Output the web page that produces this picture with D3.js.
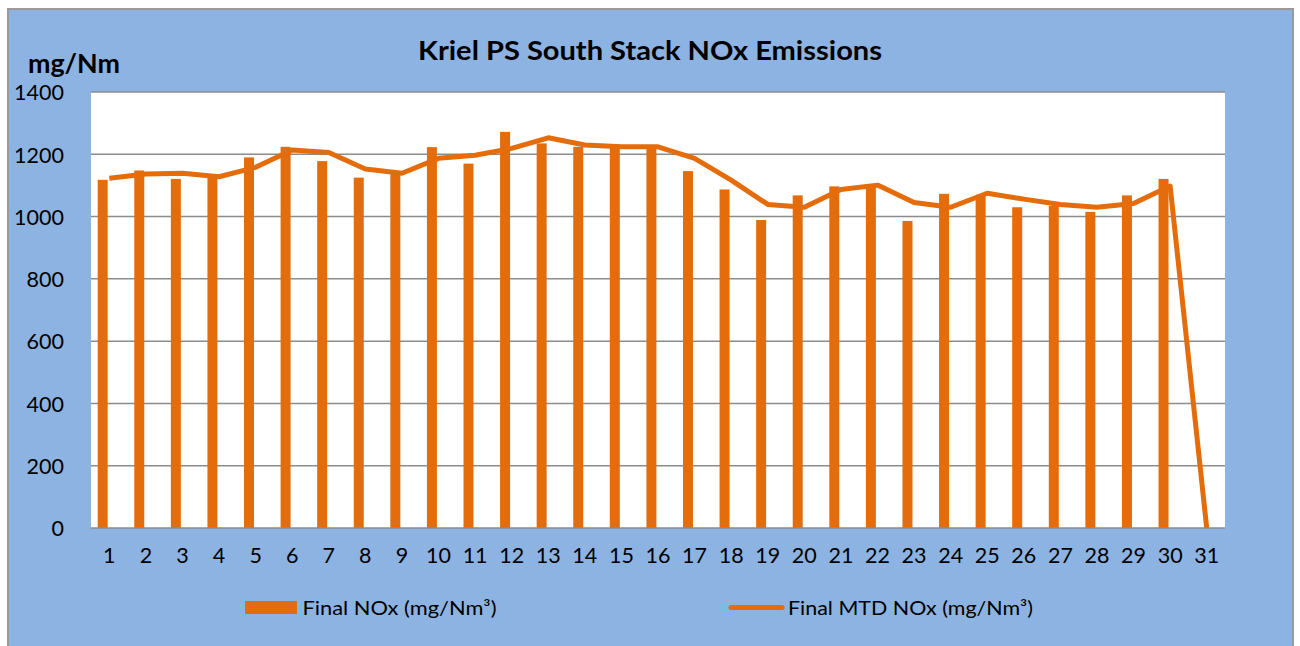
<!DOCTYPE html>
<html>
<head>
<meta charset="utf-8">
<script src="https://cdn.jsdelivr.net/npm/d3@7"></script>
<style>
  html, body { margin: 0; padding: 0; background: #ffffff; }
  svg { display: block; }
  text { font-family: Lato, "Open Sans", sans-serif; fill: #000; }
</style>
</head>
<body>
<svg id="chart" width="1300" height="646"></svg>
<script>
const days = ["1","2","3","4","5","6","7","8","9","10","11","12","13","14","15","16","17","18","19","20","21","22","23","24","25","26","27","28","29","30","31"];
const finalNOx = [1118,1148,1121,1135,1190,1224,1178,1125,1145,1223,1170,1272,1235,1224,1222,1224,1146,1087,989,1068,1097,1100,986,1073,1070,1030,1035,1015,1068,1121,0];
const finalMTD = [1123,1137,1139,1128,1158,1214,1206,1153,1139,1187,1197,1219,1253,1230,1224,1224,1187,1117,1039,1030,1087,1101,1045,1030,1075,1056,1039,1030,1042,1098,0];
const yTicks = [0,200,400,600,800,1000,1200,1400];
const titleText = "Kriel PS South Stack NOx Emissions";
const unitText = "mg/Nm";
const barLegend = "Final NOx (mg/Nm\u00b3)";
const lineLegend = "Final MTD NOx (mg/Nm\u00b3)";

const orange = "#E46C0A";
const bg = "#8DB3E2";
const gridColor = "#8C8C8C";

const svg = d3.select("#chart");

// chart frame
svg.append("rect").attr("x", 8).attr("y", 9).attr("width", 1285).attr("height", 660)
  .attr("fill", bg).attr("stroke", "#9A9A9A").attr("stroke-width", 2);

const plot = {left: 91, right: 1225, top: 92, bottom: 528};

svg.append("rect").attr("x", plot.left).attr("y", plot.top)
  .attr("width", plot.right - plot.left).attr("height", plot.bottom - plot.top)
  .attr("fill", "#ffffff");

const x = d3.scaleBand().domain(days).range([plot.left, plot.right]).paddingInner(0).paddingOuter(0);
const y = d3.scaleLinear().domain([0, 1400]).range([plot.bottom, plot.top]);

// gridlines
svg.append("g").selectAll("line").data(yTicks.filter(d => d > 0)).join("line")
  .attr("x1", plot.left).attr("x2", plot.right)
  .attr("y1", d => y(d)).attr("y2", d => y(d))
  .attr("stroke", gridColor).attr("stroke-width", 1.5);

// y axis labels
const yAxis = d3.axisLeft(y).tickValues(yTicks).tickSize(0).tickPadding(0).tickFormat(d3.format("d"));
const yg = svg.append("g").attr("transform", `translate(${plot.left - 27},0)`).call(yAxis);
yg.select(".domain").remove();
yg.selectAll("text").attr("font-family", "Lato, sans-serif").attr("font-size", "21.5px")
  .attr("fill", "#000").attr("dy", "0.36em");

// bars (drawn in left part of each category slot)
const barW = 10;
svg.append("g").selectAll("rect").data(finalNOx.map((v, i) => ({d: days[i], v}))).join("rect")
  .attr("x", d => x(d.d) + x.bandwidth() / 2 - 11.6)
  .attr("width", barW)
  .attr("y", d => y(d.v))
  .attr("height", d => y(0) - y(d.v))
  .attr("fill", orange);

// x axis line
svg.append("line").attr("x1", plot.left).attr("x2", plot.right)
  .attr("y1", plot.bottom).attr("y2", plot.bottom)
  .attr("stroke", gridColor).attr("stroke-width", 1.5);

// x axis labels
const xAxis = d3.axisBottom(x).tickSize(0).tickPadding(0);
const xg = svg.append("g").attr("transform", `translate(0,${plot.bottom})`).call(xAxis);
xg.select(".domain").remove();
xg.selectAll("text").attr("font-family", "Lato, sans-serif").attr("font-size", "21.5px")
  .attr("fill", "#000").attr("dy", null).attr("y", 34.5);

// line
const line = d3.line().x((v, i) => x(days[i]) + x.bandwidth() / 2).y(v => y(v));
svg.append("path").datum(finalMTD).attr("d", line)
  .attr("fill", "none").attr("stroke", orange).attr("stroke-width", 5)
  .attr("stroke-linejoin", "round");

// title
svg.append("text").attr("x", 650).attr("y", 60).attr("text-anchor", "middle")
  .attr("font-size", "27px").attr("font-weight", "bold")
  .attr("textLength", 464).attr("lengthAdjust", "spacingAndGlyphs")
  .text(titleText);

// unit label
svg.append("text").attr("x", 28).attr("y", 73)
  .attr("font-size", "27px").attr("font-weight", "bold")
  .attr("textLength", 92).attr("lengthAdjust", "spacingAndGlyphs")
  .text(unitText);

// legend
svg.append("rect").attr("x", 245).attr("y", 601).attr("width", 52).attr("height", 13).attr("fill", orange);
svg.append("text").attr("x", 302.5).attr("y", 614.5).attr("font-size", "19px")
  .attr("textLength", 194).attr("lengthAdjust", "spacingAndGlyphs").text(barLegend);

svg.append("line").attr("x1", 731).attr("x2", 782).attr("y1", 607.5).attr("y2", 607.5)
  .attr("stroke", orange).attr("stroke-width", 5).attr("stroke-linecap", "round");
svg.append("text").attr("x", 788).attr("y", 614.5).attr("font-size", "19px")
  .attr("textLength", 245).attr("lengthAdjust", "spacingAndGlyphs").text(lineLegend);
</script>
</body>
</html>
